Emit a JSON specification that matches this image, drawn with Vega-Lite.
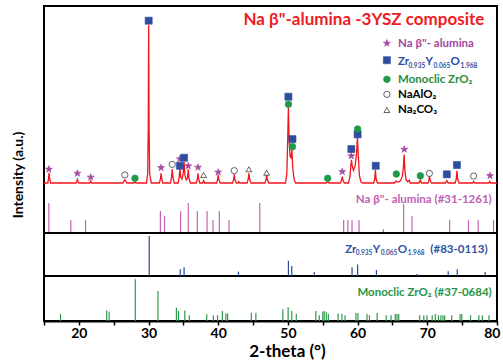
{
  "$schema": "https://vega.github.io/schema/vega-lite/v6.json",
  "width": 453,
  "height": 315,
  "autosize": {"type": "none"},
  "padding": {"left": 44, "top": 6, "right": 6, "bottom": 39},
  "background": "white",
  "config": {
    "view": {"stroke": "black", "strokeWidth": 2},
    "axis": {"grid": false},
    "text": {"font": "Lato", "fontWeight": "bold"}
  },
  "datasets": {
    "curve": [
      {"x":15,"y":0},{"x":15.55,"y":0},{"x":15.65,"y":3},{"x":15.72,"y":6.5},{"x":15.8,"y":3},{"x":15.95,"y":0},
      {"x":19.6,"y":0},{"x":19.72,"y":1},{"x":19.8,"y":2.3},{"x":19.88,"y":1},{"x":20.0,"y":0},
      {"x":21.55,"y":0},{"x":21.7,"y":1.3},{"x":21.85,"y":0},
      {"x":26.3,"y":0},{"x":26.45,"y":1},{"x":26.6,"y":2},{"x":26.75,"y":1},{"x":26.9,"y":0},
      {"x":27.9,"y":0},{"x":28.05,"y":0.8},{"x":28.2,"y":0},
      {"x":29.7,"y":0},{"x":29.88,"y":6},{"x":29.96,"y":35},{"x":30.02,"y":100},{"x":30.08,"y":35},{"x":30.16,"y":6},{"x":30.4,"y":0},
      {"x":31.55,"y":0},{"x":31.7,"y":2.5},{"x":31.8,"y":6.1},{"x":31.9,"y":2.5},{"x":32.05,"y":0},
      {"x":33.15,"y":0},{"x":33.3,"y":3.5},{"x":33.4,"y":8.9},{"x":33.5,"y":3.5},{"x":33.7,"y":0},
      {"x":34.25,"y":0},{"x":34.4,"y":4},{"x":34.5,"y":9.3},{"x":34.62,"y":3.5},{"x":34.8,"y":2.5},{"x":34.97,"y":6},{"x":35.1,"y":13.5},{"x":35.22,"y":5},{"x":35.4,"y":2},{"x":35.6,"y":3.5},{"x":35.7,"y":8.7},{"x":35.8,"y":3},{"x":36.0,"y":0},
      {"x":36.85,"y":0},{"x":37.0,"y":2.5},{"x":37.1,"y":6.1},{"x":37.2,"y":2.5},{"x":37.35,"y":0},
      {"x":37.75,"y":0},{"x":37.9,"y":1.5},{"x":38.05,"y":0},
      {"x":39.75,"y":0},{"x":39.9,"y":2},{"x":40.0,"y":5},{"x":40.1,"y":2},{"x":40.3,"y":0},
      {"x":42.05,"y":0},{"x":42.2,"y":2},{"x":42.3,"y":5.5},{"x":42.4,"y":2},{"x":42.6,"y":0},{"x":42.85,"y":0},{"x":42.95,"y":0.8},{"x":43.1,"y":0},
      {"x":44.15,"y":0},{"x":44.3,"y":2.5},{"x":44.4,"y":6.1},{"x":44.5,"y":2.5},{"x":44.7,"y":0},
      {"x":46.7,"y":0},{"x":46.85,"y":2},{"x":46.95,"y":5},{"x":47.05,"y":2},{"x":47.25,"y":0},
      {"x":49.65,"y":0},{"x":49.85,"y":6},{"x":49.97,"y":28},{"x":50.07,"y":48},{"x":50.17,"y":28},{"x":50.3,"y":17},{"x":50.45,"y":16},{"x":50.57,"y":21},{"x":50.7,"y":9},{"x":50.9,"y":2},{"x":51.1,"y":0},
      {"x":55.5,"y":0},{"x":55.7,"y":1},{"x":55.9,"y":0},
      {"x":57.5,"y":0},{"x":57.68,"y":1.5},{"x":57.8,"y":4},{"x":57.92,"y":1.5},{"x":58.1,"y":0},
      {"x":58.7,"y":0},{"x":58.9,"y":4},{"x":59.03,"y":11},{"x":59.12,"y":14.6},{"x":59.22,"y":11},{"x":59.4,"y":8},{"x":59.65,"y":11},{"x":59.85,"y":19},{"x":59.98,"y":29},{"x":60.1,"y":17},{"x":60.25,"y":5},{"x":60.45,"y":1},{"x":60.7,"y":0},
      {"x":62.3,"y":0},{"x":62.45,"y":2.5},{"x":62.55,"y":8.2},{"x":62.65,"y":2.5},{"x":62.85,"y":0},
      {"x":65.3,"y":0},{"x":65.5,"y":1.3},{"x":65.7,"y":0.6},{"x":66.0,"y":0.8},{"x":66.2,"y":2},{"x":66.4,"y":4},{"x":66.55,"y":9},{"x":66.68,"y":18},{"x":66.8,"y":7},{"x":66.95,"y":2},{"x":67.2,"y":0.8},{"x":67.4,"y":1.8},{"x":67.55,"y":0},
      {"x":68.8,"y":0},{"x":69.0,"y":2},{"x":69.15,"y":0},
      {"x":70.1,"y":0},{"x":70.22,"y":1.5},{"x":70.32,"y":4.4},{"x":70.42,"y":1.5},{"x":70.6,"y":0},
      {"x":72.6,"y":0},{"x":72.8,"y":1.5},{"x":73.0,"y":0},
      {"x":74.0,"y":0},{"x":74.15,"y":2.5},{"x":74.25,"y":7.8},{"x":74.35,"y":2.5},{"x":74.55,"y":0},
      {"x":76.5,"y":0},{"x":76.65,"y":1},{"x":76.8,"y":0},
      {"x":78.8,"y":0},{"x":78.95,"y":1},{"x":79.1,"y":0},
      {"x":80,"y":0}
    ],
    "markers": [
      {"x":15.7,"y":8.7,"phase":"Na β''-alumina"},{"x":19.8,"y":6.1,"phase":"Na β''-alumina"},{"x":21.7,"y":3.6,"phase":"Na β''-alumina"},
      {"x":31.8,"y":9.7,"phase":"Na β''-alumina"},{"x":34.5,"y":15.2,"phase":"Na β''-alumina"},{"x":35.7,"y":10.8,"phase":"Na β''-alumina"},
      {"x":37.1,"y":9.9,"phase":"Na β''-alumina"},{"x":40.0,"y":6.8,"phase":"Na β''-alumina"},{"x":57.8,"y":7.2,"phase":"Na β''-alumina"},
      {"x":59.1,"y":17.1,"phase":"Na β''-alumina"},{"x":66.7,"y":21.3,"phase":"Na β''-alumina"},{"x":79.0,"y":4.6,"phase":"Na β''-alumina"},
      {"x":30.02,"y":102.7,"phase":"Zr0.935Y0.065O1.968"},{"x":34.5,"y":10.9,"phase":"Zr0.935Y0.065O1.968"},{"x":35.1,"y":16,"phase":"Zr0.935Y0.065O1.968"},
      {"x":50.07,"y":54.6,"phase":"Zr0.935Y0.065O1.968"},{"x":50.65,"y":27.8,"phase":"Zr0.935Y0.065O1.968"},{"x":59.1,"y":21.5,"phase":"Zr0.935Y0.065O1.968"},
      {"x":60.0,"y":30.8,"phase":"Zr0.935Y0.065O1.968"},{"x":62.6,"y":10.9,"phase":"Zr0.935Y0.065O1.968"},{"x":72.8,"y":5.5,"phase":"Zr0.935Y0.065O1.968"},
      {"x":74.25,"y":11.4,"phase":"Zr0.935Y0.065O1.968"},
      {"x":28.05,"y":3,"phase":"Monoclinic ZrO2"},{"x":50.07,"y":49.8,"phase":"Monoclinic ZrO2"},{"x":50.65,"y":23,"phase":"Monoclinic ZrO2"},
      {"x":55.7,"y":3,"phase":"Monoclinic ZrO2"},{"x":60.0,"y":34.2,"phase":"Monoclinic ZrO2"},{"x":65.55,"y":5.7,"phase":"Monoclinic ZrO2"},
      {"x":69.0,"y":4.6,"phase":"Monoclinic ZrO2"},
      {"x":26.6,"y":5.1,"phase":"NaAlO2"},{"x":33.4,"y":11.8,"phase":"NaAlO2"},{"x":42.3,"y":7.8,"phase":"NaAlO2"},
      {"x":70.3,"y":6.1,"phase":"NaAlO2"},{"x":76.65,"y":4.4,"phase":"NaAlO2"},
      {"x":37.9,"y":5.1,"phase":"Na2CO3"},{"x":44.4,"y":8.7,"phase":"Na2CO3"},{"x":46.95,"y":6.5,"phase":"Na2CO3"}
    ],
    "legendKeys": [
      {"x":64.2,"y":88.4,"phase":"Na β''-alumina"},
      {"x":64.2,"y":77.7,"phase":"Zr0.935Y0.065O1.968"},
      {"x":64.2,"y":65.6,"phase":"Monoclinic ZrO2"},
      {"x":64.2,"y":56.1,"phase":"NaAlO2"},
      {"x":64.2,"y":46.2,"phase":"Na2CO3"}
    ],
    "pinkSticks": [
      {"x":15.7,"y":100},{"x":18.85,"y":43},{"x":20.96,"y":43},{"x":31.7,"y":73},{"x":32.3,"y":57},{"x":34.6,"y":73},
      {"x":35.7,"y":100},{"x":37.0,"y":73},{"x":38.4,"y":73},{"x":39.25,"y":43},{"x":40.16,"y":73},{"x":41.55,"y":43},
      {"x":45.96,"y":100},{"x":58.0,"y":43},{"x":58.6,"y":43},{"x":59.2,"y":43},{"x":60.2,"y":43},{"x":63.7,"y":13},
      {"x":66.6,"y":97},{"x":67.8,"y":57},{"x":73.2,"y":43},{"x":75.9,"y":43},{"x":77.3,"y":43},{"x":79.5,"y":43}
    ],
    "blueSticks": [
      {"x":30.1,"y":100},{"x":34.55,"y":17},{"x":35.1,"y":22},{"x":42.9,"y":11},{"x":50.07,"y":38},{"x":50.55,"y":25},
      {"x":53.77,"y":10},{"x":59.2,"y":22},{"x":60.0,"y":29},{"x":62.7,"y":15},{"x":68.5,"y":5},{"x":73.0,"y":12},
      {"x":74.3,"y":17},{"x":78.3,"y":10}
    ],
    "greenSticks": [
      {"x":17.37,"y":17},{"x":24.0,"y":25},{"x":24.35,"y":22},{"x":28.1,"y":100},{"x":31.35,"y":72},{"x":34.0,"y":32},
      {"x":34.3,"y":24},{"x":35.2,"y":25},{"x":35.85,"y":14},{"x":38.35,"y":16},{"x":39.3,"y":14},{"x":39.9,"y":14},
      {"x":40.6,"y":24},{"x":41.1,"y":18},{"x":41.35,"y":18},{"x":44.75,"y":20},{"x":45.4,"y":20},{"x":49.27,"y":28},
      {"x":50.03,"y":33},{"x":50.55,"y":24},{"x":51.2,"y":17},{"x":54.0,"y":24},{"x":54.5,"y":14},{"x":55.0,"y":22},
      {"x":55.2,"y":24},{"x":55.5,"y":22},{"x":55.8,"y":17},{"x":57.2,"y":18},{"x":57.75,"y":17},{"x":58.2,"y":14},
      {"x":59.75,"y":19},{"x":60.05,"y":19},{"x":61.35,"y":17},{"x":61.7,"y":14},{"x":62.8,"y":19},{"x":64.1,"y":14},
      {"x":64.8,"y":14},{"x":65.4,"y":17},{"x":65.65,"y":17},{"x":65.9,"y":17},{"x":68.9,"y":14},{"x":69.5,"y":14},
      {"x":69.95,"y":14},{"x":70.7,"y":14},{"x":71.15,"y":17},{"x":71.6,"y":14},{"x":71.95,"y":14},{"x":72.25,"y":14},
      {"x":72.5,"y":14},{"x":73.5,"y":14},{"x":74.7,"y":17},{"x":74.95,"y":17},{"x":76.2,"y":14},{"x":77.4,"y":14},
      {"x":77.9,"y":14},{"x":78.85,"y":14}
    ],
    "separators": [{"y": 0}, {"y": 107.5}]
  },
  "resolve": {"scale": {"y": "independent"}},
  "layer": [
    {
      "encoding": {
        "x": {
          "field": "x", "type": "quantitative",
          "scale": {"domain": [15, 80], "nice": false, "zero": false},
          "axis": {"orient": "bottom", "values": [15,20,25,30,35,40,45,50,55,60,65,70,75,80], "labelExpr": "datum.value % 10 === 0 ? datum.label : ''", "labelFlush": true, "labelFlushOffset": 3, "labelOverlap": false, "tickSize": 4, "tickWidth": 1.5, "tickColor": "black", "domainColor": "black", "domainWidth": 2, "labelFont": "Lato", "labelFontSize": 14, "labelFontWeight": "bold", "labelColor": "black", "labelPadding": 1, "title": "2-theta (°)", "titleFont": "Lato", "titleFontSize": 17, "titleFontWeight": "bold", "titleColor": "black", "titleX": 243, "titleY": 35, "titleBaseline": "alphabetic", "titleAlign": "center"}
        },
        "y": {
          "field": "y", "type": "quantitative",
          "scale": {"domain": [-87.3, 112], "nice": false, "zero": false},
          "axis": null
        }
      },
      "layer": [
        {"data": {"name": "curve"}, "mark": {"type": "line", "color": "#f5141c", "strokeWidth": 1.3}},
        {
          "data": {"name": "markers"},
          "mark": {"type": "point", "filled": true, "strokeWidth": 0.6, "opacity": 1},
          "encoding": {
            "shape": {"field": "phase", "type": "nominal", "legend": null,
              "scale": {"domain": ["Na β''-alumina","Zr0.935Y0.065O1.968","Monoclinic ZrO2","NaAlO2","Na2CO3"],
                "range": ["M0,-1L0.235,-0.324L0.951,-0.309L0.38,0.124L0.588,0.809L0,0.4L-0.588,0.809L-0.38,0.124L-0.951,-0.309L-0.235,-0.324Z","square","circle","circle","triangle-up"]}},
            "fill": {"field": "phase", "type": "nominal", "legend": null,
              "scale": {"domain": ["Na β''-alumina","Zr0.935Y0.065O1.968","Monoclinic ZrO2","NaAlO2","Na2CO3"],
                "range": ["#a24a9f","#2d4e9e","#1f9a48","#ffffff","#ffffff"]}},
            "stroke": {"field": "phase", "type": "nominal", "legend": null,
              "scale": {"domain": ["Na β''-alumina","Zr0.935Y0.065O1.968","Monoclinic ZrO2","NaAlO2","Na2CO3"],
                "range": ["#a24a9f","#2d4e9e","#1f9a48","#000000","#000000"]}},
            "size": {"field": "phase", "type": "nominal", "legend": null,
              "scale": {"domain": ["Na β''-alumina","Zr0.935Y0.065O1.968","Monoclinic ZrO2","NaAlO2","Na2CO3"],
                "range": [55, 34, 17, 16, 28]}}
          }
        },
        {
          "data": {"name": "legendKeys"},
          "mark": {"type": "point", "filled": true, "strokeWidth": 0.6, "opacity": 1},
          "encoding": {
            "shape": {"field": "phase", "type": "nominal", "legend": null},
            "fill": {"field": "phase", "type": "nominal", "legend": null},
            "stroke": {"field": "phase", "type": "nominal", "legend": null},
            "size": {"field": "phase", "type": "nominal", "legend": null}
          }
        },
        {
          "data": {"values": [{"t": "Intensity (a.u.)", "x": 11.4, "y": 5.1}]},
          "mark": {"type": "text", "align": "center", "baseline": "middle", "angle": 270, "fontSize": 14, "fontWeight": "bold", "font": "Lato", "color": "#000000"},
          "encoding": {"text": {"field": "t"}}
        },
        {
          "data": {"values": [{"t": "Na β\"-alumina -3YSZ composite", "x": 60.9, "y": 100}]},
          "mark": {"type": "text", "align": "center", "baseline": "alphabetic", "fontSize": 17, "fontWeight": "bold", "font": "Lato", "color": "#ee1c24"},
          "encoding": {"text": {"field": "t"}}
        },
        {
          "data": {"values": [{"t": "Na β''- alumina", "x": 65.8, "y": 86.1}]},
          "mark": {"type": "text", "align": "left", "baseline": "alphabetic", "fontSize": 11.5, "fontWeight": "bold", "font": "Lato", "color": "#a4469e"},
          "encoding": {"text": {"field": "t"}}
        },
        {
          "data": {"values": [{"t": "Zr", "x": 65.8, "y": 74.7}, {"t": "Y", "x": 69.75, "y": 74.7}, {"t": "O", "x": 73.34, "y": 74.7}]},
          "mark": {"type": "text", "align": "left", "baseline": "alphabetic", "fontSize": 11.5, "fontWeight": "bold", "font": "Lato", "color": "#2c4b9c"},
          "encoding": {"text": {"field": "t"}}
        },
        {
          "data": {"values": [{"t": "0.935", "x": 67.31, "y": 73.0}, {"t": "0.065", "x": 70.9, "y": 73.0}, {"t": "1.968", "x": 74.78, "y": 73.0}]},
          "mark": {"type": "text", "align": "left", "baseline": "alphabetic", "fontSize": 6.5, "fontWeight": "bold", "font": "Lato", "color": "#2c4b9c"},
          "encoding": {"text": {"field": "t"}}
        },
        {
          "data": {"values": [{"t": "Monoclic ZrO₂", "x": 65.8, "y": 63.0}]},
          "mark": {"type": "text", "align": "left", "baseline": "alphabetic", "fontSize": 11.5, "fontWeight": "bold", "font": "Lato", "color": "#2a8c3c"},
          "encoding": {"text": {"field": "t"}}
        },
        {
          "data": {"values": [{"t": "NaAlO₂", "x": 65.8, "y": 54.0}, {"t": "Na₂CO₃", "x": 65.8, "y": 44.0}]},
          "mark": {"type": "text", "align": "left", "baseline": "alphabetic", "fontSize": 11.5, "fontWeight": "bold", "font": "Lato", "color": "#000000"},
          "encoding": {"text": {"field": "t"}}
        }
      ]
    },
    {
      "encoding": {
        "x": {
          "field": "x", "type": "quantitative",
          "axis": {"orient": "bottom", "values": [15,20,25,30,35,40,45,50,55,60,65,70,75,80], "labelExpr": "datum.value % 10 === 0 ? datum.label : ''", "labelFlush": true, "labelFlushOffset": 3, "labelOverlap": false, "tickSize": 4, "tickWidth": 1.5, "tickColor": "black", "domainColor": "black", "domainWidth": 2, "labelFont": "Lato", "labelFontSize": 14, "labelFontWeight": "bold", "labelColor": "black", "labelPadding": 1, "title": "2-theta (°)", "titleFont": "Lato", "titleFontSize": 17, "titleFontWeight": "bold", "titleColor": "black", "titleX": 243, "titleY": 35, "titleBaseline": "alphabetic", "titleAlign": "center"}
        },
        "y": {"field": "y", "type": "quantitative", "scale": {"domain": [-293.3, 756.7], "nice": false, "zero": false}, "axis": null}
      },
      "layer": [
        {"data": {"name": "pinkSticks"}, "mark": {"type": "rule", "color": "#c363b6", "strokeWidth": 1.2}, "encoding": {"y2": {"datum": 0}}},
        {
          "data": {"values": [{"t": "Na β''- alumina (#31-1261)", "x": 79.25, "y": 99}]},
          "mark": {"type": "text", "align": "right", "baseline": "alphabetic", "fontSize": 11.5, "fontWeight": "bold", "font": "Lato", "color": "#bf60b2"},
          "encoding": {"text": {"field": "t"}}
        }
      ]
    },
    {
      "encoding": {
        "y": {"field": "y", "type": "quantitative", "scale": {"domain": [-112.5, 675], "nice": false, "zero": false}, "axis": null}
      },
      "layer": [
        {"data": {"name": "separators"}, "mark": {"type": "rule", "color": "black", "strokeWidth": 2}},
        {
          "data": {"name": "blueSticks"}, "mark": {"type": "rule", "color": "#2d4a9c", "strokeWidth": 1.2},
          "encoding": {
            "x": {"field": "x", "type": "quantitative", "axis": {"orient": "bottom", "values": [15,20,25,30,35,40,45,50,55,60,65,70,75,80], "labelExpr": "datum.value % 10 === 0 ? datum.label : ''", "labelFlush": true, "labelFlushOffset": 3, "labelOverlap": false, "tickSize": 4, "tickWidth": 1.5, "tickColor": "black", "domainColor": "black", "domainWidth": 2, "labelFont": "Lato", "labelFontSize": 14, "labelFontWeight": "bold", "labelColor": "black", "labelPadding": 1, "title": "2-theta (°)", "titleFont": "Lato", "titleFontSize": 17, "titleFontWeight": "bold", "titleColor": "black", "titleX": 243, "titleY": 35, "titleBaseline": "alphabetic", "titleAlign": "center"}},
            "y2": {"datum": 0}
          }
        },
        {
          "data": {"values": [{"t": "Zr", "x": 58.22, "y": 58.3}, {"t": "Y", "x": 62.17, "y": 58.3}, {"t": "O", "x": 65.76, "y": 58.3}, {"t": "(#83-0113)", "x": 70.43, "y": 58.3}]},
          "mark": {"type": "text", "align": "left", "baseline": "alphabetic", "fontSize": 11.5, "fontWeight": "bold", "font": "Lato", "color": "#3151a2"},
          "encoding": {
            "x": {"field": "x", "type": "quantitative", "axis": {"orient": "bottom", "values": [15,20,25,30,35,40,45,50,55,60,65,70,75,80], "labelExpr": "datum.value % 10 === 0 ? datum.label : ''", "labelFlush": true, "labelFlushOffset": 3, "labelOverlap": false, "tickSize": 4, "tickWidth": 1.5, "tickColor": "black", "domainColor": "black", "domainWidth": 2, "labelFont": "Lato", "labelFontSize": 14, "labelFontWeight": "bold", "labelColor": "black", "labelPadding": 1, "title": "2-theta (°)", "titleFont": "Lato", "titleFontSize": 17, "titleFontWeight": "bold", "titleColor": "black", "titleX": 243, "titleY": 35, "titleBaseline": "alphabetic", "titleAlign": "center"}},
            "text": {"field": "t"}
          }
        },
        {
          "data": {"values": [{"t": "0.935", "x": 59.73, "y": 51.75}, {"t": "0.065", "x": 63.32, "y": 51.75}, {"t": "1.968", "x": 67.2, "y": 51.75}]},
          "mark": {"type": "text", "align": "left", "baseline": "alphabetic", "fontSize": 6.5, "fontWeight": "bold", "font": "Lato", "color": "#3151a2"},
          "encoding": {
            "x": {"field": "x", "type": "quantitative", "axis": {"orient": "bottom", "values": [15,20,25,30,35,40,45,50,55,60,65,70,75,80], "labelExpr": "datum.value % 10 === 0 ? datum.label : ''", "labelFlush": true, "labelFlushOffset": 3, "labelOverlap": false, "tickSize": 4, "tickWidth": 1.5, "tickColor": "black", "domainColor": "black", "domainWidth": 2, "labelFont": "Lato", "labelFontSize": 14, "labelFontWeight": "bold", "labelColor": "black", "labelPadding": 1, "title": "2-theta (°)", "titleFont": "Lato", "titleFontSize": 17, "titleFontWeight": "bold", "titleColor": "black", "titleX": 243, "titleY": 35, "titleBaseline": "alphabetic", "titleAlign": "center"}},
            "text": {"field": "t"}
          }
        }
      ]
    },
    {
      "encoding": {
        "x": {
          "field": "x", "type": "quantitative",
          "axis": {"orient": "bottom", "values": [15,20,25,30,35,40,45,50,55,60,65,70,75,80], "labelExpr": "datum.value % 10 === 0 ? datum.label : ''", "labelFlush": true, "labelFlushOffset": 3, "labelOverlap": false, "tickSize": 4, "tickWidth": 1.5, "tickColor": "black", "domainColor": "black", "domainWidth": 2, "labelFont": "Lato", "labelFontSize": 14, "labelFontWeight": "bold", "labelColor": "black", "labelPadding": 1, "title": "2-theta (°)", "titleFont": "Lato", "titleFontSize": 17, "titleFontWeight": "bold", "titleColor": "black", "titleX": 243, "titleY": 35, "titleBaseline": "alphabetic", "titleAlign": "center"}
        },
        "y": {"field": "y", "type": "quantitative", "scale": {"domain": [0, 755.4], "nice": false, "zero": false}, "axis": null}
      },
      "layer": [
        {"data": {"name": "greenSticks"}, "mark": {"type": "rule", "color": "#2e9a4c", "strokeWidth": 1.2}, "encoding": {"y2": {"datum": 0}}},
        {
          "data": {"values": [{"t": "Monoclic ZrO₂ (#37-0684)", "x": 79.25, "y": 60.7}]},
          "mark": {"type": "text", "align": "right", "baseline": "alphabetic", "fontSize": 11.5, "fontWeight": "bold", "font": "Lato", "color": "#2a9447"},
          "encoding": {"text": {"field": "t"}}
        }
      ]
    }
  ]
}
